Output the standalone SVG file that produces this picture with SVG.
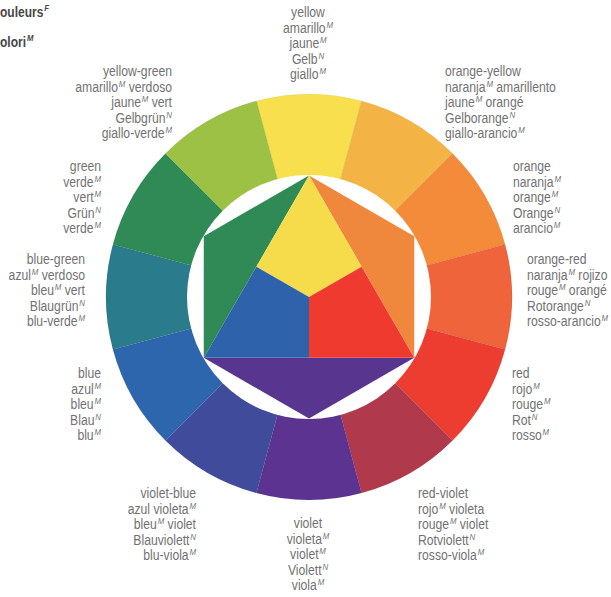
<svg xmlns="http://www.w3.org/2000/svg" width="611" height="597" viewBox="0 0 611 597">
<style>
.t{font-family:"Liberation Sans",Arial,sans-serif;font-size:14px;fill:#727272}
.h{font-family:"Liberation Sans",Arial,sans-serif;font-size:14px;font-weight:bold;fill:#474747}
.s{font-size:9px;font-style:italic}
.e{text-anchor:end}
.m{text-anchor:middle}
.seg{stroke:#000;stroke-opacity:0.08;stroke-width:0.6}
</style>
<rect width="611" height="597" fill="#ffffff"/>
<g id="header" transform="scale(0.86 1)">
<text class="h" x="0" y="17">ouleurs<tspan class="s" dx="1" dy="-6">F</tspan></text>
<text class="h" x="0" y="47">olori<tspan class="s" dx="1" dy="-6">M</tspan></text>
</g>
<g id="ring">
<g id="seg-yellow"><path class="seg" fill="#f8df4d" d="M309 297L256.46 100.917A203 203 0 0 1 361.54 100.917Z"/></g>
<g id="seg-orange-yellow"><path class="seg" fill="#f4b445" d="M309 297L361.54 100.917A203 203 0 0 1 452.543 153.457Z"/></g>
<g id="seg-orange"><path class="seg" fill="#f38b3b" d="M309 297L452.543 153.457A203 203 0 0 1 505.083 244.46Z"/></g>
<g id="seg-orange-red"><path class="seg" fill="#ef643b" d="M309 297L505.083 244.46A203 203 0 0 1 505.083 349.54Z"/></g>
<g id="seg-red"><path class="seg" fill="#ed3d31" d="M309 297L505.083 349.54A203 203 0 0 1 452.543 440.543Z"/></g>
<g id="seg-red-violet"><path class="seg" fill="#b0394c" d="M309 297L452.543 440.543A203 203 0 0 1 361.54 493.083Z"/></g>
<g id="seg-violet"><path class="seg" fill="#5c3391" d="M309 297L361.54 493.083A203 203 0 0 1 256.46 493.083Z"/></g>
<g id="seg-violet-blue"><path class="seg" fill="#414b9c" d="M309 297L256.46 493.083A203 203 0 0 1 165.457 440.543Z"/></g>
<g id="seg-blue"><path class="seg" fill="#2e66ae" d="M309 297L165.457 440.543A203 203 0 0 1 112.917 349.54Z"/></g>
<g id="seg-blue-green"><path class="seg" fill="#2a7b8c" d="M309 297L112.917 349.54A203 203 0 0 1 112.917 244.46Z"/></g>
<g id="seg-green"><path class="seg" fill="#2f8a55" d="M309 297L112.917 244.46A203 203 0 0 1 165.457 153.457Z"/></g>
<g id="seg-yellow-green"><path class="seg" fill="#9dc145" d="M309 297L165.457 153.457A203 203 0 0 1 256.46 100.917Z"/></g>
<circle cx="309" cy="297" r="122" fill="#ffffff"/>
</g>
<g id="hexagon">
<g id="tri-green"><polygon fill="#2f8a55" points="309,175.5 203.78,357.75 203.78,236.25"/></g>
<g id="tri-orange"><polygon fill="#ef873d" points="309,175.5 414.22,236.25 414.22,357.75"/></g>
<g id="tri-violet"><polygon fill="#58358f" points="203.78,357.75 414.22,357.75 309,418.5"/></g>
<g id="kite-yellow"><polygon fill="#f6dc4a" points="309,175.5 361.61,266.625 309,297 256.39,266.625"/></g>
<g id="kite-red"><polygon fill="#ee3a2f" points="361.61,266.625 414.22,357.75 309,357.75 309,297"/></g>
<g id="kite-blue"><polygon fill="#2e63ab" points="256.39,266.625 309,297 309,357.75 203.78,357.75"/></g>
</g>
<g id="label-yellow" transform="translate(308 0) scale(0.87 1)">
<text class="t m" x="0" y="17">yellow</text>
<text class="t m" x="0" y="32.6">amarillo<tspan class="s" dx="1" dy="-5">M</tspan></text>
<text class="t m" x="0" y="48.2">jaune<tspan class="s" dx="1" dy="-5">M</tspan></text>
<text class="t m" x="0" y="63.8">Gelb<tspan class="s" dx="1" dy="-5">N</tspan></text>
<text class="t m" x="0" y="79.4">giallo<tspan class="s" dx="1" dy="-5">M</tspan></text>
</g>
<g id="label-yellow-green" transform="translate(172 0) scale(0.87 1)">
<text class="t e" x="0" y="76">yellow-green</text>
<text class="t e" x="0" y="91.6">amarillo<tspan class="s" dx="1" dy="-5">M</tspan><tspan dy="5"> verdoso</tspan></text>
<text class="t e" x="0" y="107.2">jaune<tspan class="s" dx="1" dy="-5">M</tspan><tspan dy="5"> vert</tspan></text>
<text class="t e" x="0" y="122.8">Gelbgrün<tspan class="s" dx="1" dy="-5">N</tspan></text>
<text class="t e" x="0" y="138.4">giallo-verde<tspan class="s" dx="1" dy="-5">M</tspan></text>
</g>
<g id="label-orange-yellow" transform="translate(445 0) scale(0.87 1)">
<text class="t" x="0" y="76">orange-yellow</text>
<text class="t" x="0" y="91.6">naranja<tspan class="s" dx="1" dy="-5">M</tspan><tspan dy="5"> amarillento</tspan></text>
<text class="t" x="0" y="107.2">jaune<tspan class="s" dx="1" dy="-5">M</tspan><tspan dy="5"> orangé</tspan></text>
<text class="t" x="0" y="122.8">Gelborange<tspan class="s" dx="1" dy="-5">N</tspan></text>
<text class="t" x="0" y="138.4">giallo-arancio<tspan class="s" dx="1" dy="-5">M</tspan></text>
</g>
<g id="label-green" transform="translate(101 0) scale(0.87 1)">
<text class="t e" x="0" y="171">green</text>
<text class="t e" x="0" y="186.6">verde<tspan class="s" dx="1" dy="-5">M</tspan></text>
<text class="t e" x="0" y="202.2">vert<tspan class="s" dx="1" dy="-5">M</tspan></text>
<text class="t e" x="0" y="217.8">Grün<tspan class="s" dx="1" dy="-5">N</tspan></text>
<text class="t e" x="0" y="233.4">verde<tspan class="s" dx="1" dy="-5">M</tspan></text>
</g>
<g id="label-orange" transform="translate(513 0) scale(0.87 1)">
<text class="t" x="0" y="171">orange</text>
<text class="t" x="0" y="186.6">naranja<tspan class="s" dx="1" dy="-5">M</tspan></text>
<text class="t" x="0" y="202.2">orange<tspan class="s" dx="1" dy="-5">M</tspan></text>
<text class="t" x="0" y="217.8">Orange<tspan class="s" dx="1" dy="-5">N</tspan></text>
<text class="t" x="0" y="233.4">arancio<tspan class="s" dx="1" dy="-5">M</tspan></text>
</g>
<g id="label-blue-green" transform="translate(85 0) scale(0.87 1)">
<text class="t e" x="0" y="264">blue-green</text>
<text class="t e" x="0" y="279.6">azul<tspan class="s" dx="1" dy="-5">M</tspan><tspan dy="5"> verdoso</tspan></text>
<text class="t e" x="0" y="295.2">bleu<tspan class="s" dx="1" dy="-5">M</tspan><tspan dy="5"> vert</tspan></text>
<text class="t e" x="0" y="310.8">Blaugrün<tspan class="s" dx="1" dy="-5">N</tspan></text>
<text class="t e" x="0" y="326.4">blu-verde<tspan class="s" dx="1" dy="-5">M</tspan></text>
</g>
<g id="label-orange-red" transform="translate(527 0) scale(0.87 1)">
<text class="t" x="0" y="264">orange-red</text>
<text class="t" x="0" y="279.6">naranja<tspan class="s" dx="1" dy="-5">M</tspan><tspan dy="5"> rojizo</tspan></text>
<text class="t" x="0" y="295.2">rouge<tspan class="s" dx="1" dy="-5">M</tspan><tspan dy="5"> orangé</tspan></text>
<text class="t" x="0" y="310.8">Rotorange<tspan class="s" dx="1" dy="-5">N</tspan></text>
<text class="t" x="0" y="326.4">rosso-arancio<tspan class="s" dx="1" dy="-5">M</tspan></text>
</g>
<g id="label-blue" transform="translate(101 0) scale(0.87 1)">
<text class="t e" x="0" y="378">blue</text>
<text class="t e" x="0" y="393.6">azul<tspan class="s" dx="1" dy="-5">M</tspan></text>
<text class="t e" x="0" y="409.2">bleu<tspan class="s" dx="1" dy="-5">M</tspan></text>
<text class="t e" x="0" y="424.8">Blau<tspan class="s" dx="1" dy="-5">N</tspan></text>
<text class="t e" x="0" y="440.4">blu<tspan class="s" dx="1" dy="-5">M</tspan></text>
</g>
<g id="label-red" transform="translate(512 0) scale(0.87 1)">
<text class="t" x="0" y="378">red</text>
<text class="t" x="0" y="393.6">rojo<tspan class="s" dx="1" dy="-5">M</tspan></text>
<text class="t" x="0" y="409.2">rouge<tspan class="s" dx="1" dy="-5">M</tspan></text>
<text class="t" x="0" y="424.8">Rot<tspan class="s" dx="1" dy="-5">N</tspan></text>
<text class="t" x="0" y="440.4">rosso<tspan class="s" dx="1" dy="-5">M</tspan></text>
</g>
<g id="label-violet-blue" transform="translate(196 0) scale(0.87 1)">
<text class="t e" x="0" y="498">violet-blue</text>
<text class="t e" x="0" y="513.6">azul violeta<tspan class="s" dx="1" dy="-5">M</tspan></text>
<text class="t e" x="0" y="529.2">bleu<tspan class="s" dx="1" dy="-5">M</tspan><tspan dy="5"> violet</tspan></text>
<text class="t e" x="0" y="544.8">Blauviolett<tspan class="s" dx="1" dy="-5">N</tspan></text>
<text class="t e" x="0" y="560.4">blu-viola<tspan class="s" dx="1" dy="-5">M</tspan></text>
</g>
<g id="label-violet" transform="translate(308 0) scale(0.87 1)">
<text class="t m" x="0" y="528">violet</text>
<text class="t m" x="0" y="543.6">violeta<tspan class="s" dx="1" dy="-5">M</tspan></text>
<text class="t m" x="0" y="559.2">violet<tspan class="s" dx="1" dy="-5">M</tspan></text>
<text class="t m" x="0" y="574.8">Violett<tspan class="s" dx="1" dy="-5">N</tspan></text>
<text class="t m" x="0" y="590.4">viola<tspan class="s" dx="1" dy="-5">M</tspan></text>
</g>
<g id="label-red-violet" transform="translate(418 0) scale(0.87 1)">
<text class="t" x="0" y="498">red-violet</text>
<text class="t" x="0" y="513.6">rojo<tspan class="s" dx="1" dy="-5">M</tspan><tspan dy="5"> violeta</tspan></text>
<text class="t" x="0" y="529.2">rouge<tspan class="s" dx="1" dy="-5">M</tspan><tspan dy="5"> violet</tspan></text>
<text class="t" x="0" y="544.8">Rotviolett<tspan class="s" dx="1" dy="-5">N</tspan></text>
<text class="t" x="0" y="560.4">rosso-viola<tspan class="s" dx="1" dy="-5">M</tspan></text>
</g>
</svg>
